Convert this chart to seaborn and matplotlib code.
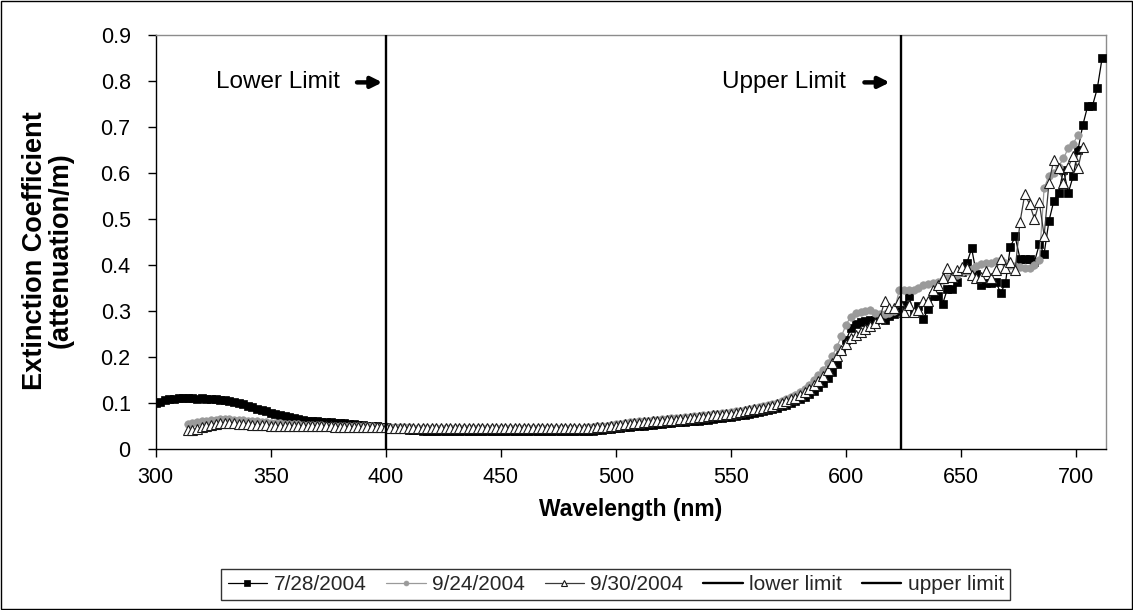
import matplotlib
matplotlib.use("Agg")
import matplotlib.pyplot as plt
import seaborn as sns
from matplotlib.patches import Rectangle

nan = float("nan")

# ---------------- data ----------------
wavelength = [
    300, 302, 304, 306, 308, 310, 312, 314, 316, 318,
    320, 322, 324, 326, 328, 330, 332, 334, 336, 338,
    340, 342, 344, 346, 348, 350, 352, 354, 356, 358,
    360, 362, 364, 366, 368, 370, 372, 374, 376, 378,
    380, 382, 384, 386, 388, 390, 392, 394, 396, 398,
    400, 402, 404, 406, 408, 410, 412, 414, 416, 418,
    420, 422, 424, 426, 428, 430, 432, 434, 436, 438,
    440, 442, 444, 446, 448, 450, 452, 454, 456, 458,
    460, 462, 464, 466, 468, 470, 472, 474, 476, 478,
    480, 482, 484, 486, 488, 490, 492, 494, 496, 498,
    500, 502, 504, 506, 508, 510, 512, 514, 516, 518,
    520, 522, 524, 526, 528, 530, 532, 534, 536, 538,
    540, 542, 544, 546, 548, 550, 552, 554, 556, 558,
    560, 562, 564, 566, 568, 570, 572, 574, 576, 578,
    580, 582, 584, 586, 588, 590, 592, 594, 596, 598,
    600, 602.1, 604.2, 606.3, 608.4, 610.5, 612.6, 614.7, 616.8, 618.9,
    621.0, 623.1, 625.2, 627.3, 629.4, 631.5, 633.6, 635.7, 637.8, 639.9,
    642.0, 644.1, 646.2, 648.3, 650.4, 652.5, 654.6, 656.7, 658.8, 660.9,
    663.0, 665.1, 667.2, 669.3, 671.4, 673.5, 675.6, 677.7, 679.8, 681.9,
    684.0, 686.1, 688.2, 690.3, 692.4, 694.5, 696.6, 698.7, 700.8, 702.9,
    705.0, 707.1, 709.2, 711.3,
]

ext_0728 = [
    0.100, 0.103, 0.106, 0.108, 0.109, 0.110, 0.110, 0.110, 0.110, 0.109,
    0.110, 0.109, 0.108, 0.108, 0.107, 0.106, 0.104, 0.102, 0.100, 0.097,
    0.094, 0.091, 0.088, 0.085, 0.082, 0.079, 0.076, 0.073, 0.071, 0.069,
    0.067, 0.065, 0.064, 0.062, 0.061, 0.060, 0.059, 0.058, 0.058, 0.057,
    0.056, 0.056, 0.055, 0.054, 0.053, 0.052, 0.051, 0.050, 0.049, 0.048,
    0.047, 0.046, 0.045, 0.044, 0.043, 0.042, 0.041, 0.041, 0.040, 0.040,
    0.040, 0.039, 0.039, 0.039, 0.039, 0.039, 0.039, 0.039, 0.039, 0.039,
    0.039, 0.039, 0.039, 0.039, 0.039, 0.039, 0.039, 0.039, 0.039, 0.039,
    0.039, 0.039, 0.039, 0.039, 0.039, 0.039, 0.039, 0.039, 0.039, 0.039,
    0.039, 0.039, 0.039, 0.039, 0.040, 0.040, 0.041, 0.042, 0.043, 0.044,
    0.045, 0.046, 0.047, 0.048, 0.049, 0.050, 0.051, 0.052, 0.053, 0.054,
    0.055, 0.056, 0.057, 0.058, 0.058, 0.059, 0.060, 0.061, 0.062, 0.063,
    0.064, 0.066, 0.067, 0.068, 0.069, 0.070, 0.072, 0.073, 0.075, 0.077,
    0.079, 0.081, 0.083, 0.085, 0.087, 0.090, 0.093, 0.096, 0.100, 0.104,
    0.109, 0.114, 0.120, 0.127, 0.135, 0.144, 0.155, 0.167, 0.184, 0.212,
    0.236, 0.262, 0.272, 0.276, 0.279, 0.280, 0.281, 0.284, 0.281, 0.289,
    0.293, 0.300, 0.314, 0.332, 0.297, 0.311, 0.283, 0.304, 0.332, 0.332,
    0.316, 0.348, 0.348, 0.362, 0.385, 0.404, 0.436, 0.380, 0.357, 0.361,
    0.361, 0.364, 0.339, 0.361, 0.439, 0.462, 0.414, 0.412, 0.412, 0.407,
    0.445, 0.425, 0.496, 0.539, 0.557, 0.607, 0.557, 0.593, 0.650, 0.704,
    0.745, 0.746, 0.784, 0.850,
]

ext_0924 = [
    nan, nan, nan, nan, nan, nan, nan, 0.054, 0.057, 0.059,
    0.061, 0.062, 0.063, 0.064, 0.065, 0.065, 0.065, 0.064, 0.064, 0.063,
    0.062, 0.061, 0.060, 0.059, 0.058, 0.057, 0.056, 0.056, 0.055, 0.055,
    0.054, 0.054, 0.053, 0.053, 0.052, 0.052, 0.052, 0.051, 0.051, 0.051,
    0.050, 0.050, 0.050, 0.050, 0.049, 0.049, 0.049, 0.049, 0.048, 0.048,
    0.048, 0.048, 0.047, 0.047, 0.047, 0.047, 0.046, 0.046, 0.046, 0.046,
    0.046, 0.046, 0.046, 0.045, 0.045, 0.045, 0.045, 0.045, 0.045, 0.045,
    0.045, 0.045, 0.045, 0.045, 0.045, 0.045, 0.045, 0.045, 0.045, 0.045,
    0.045, 0.045, 0.045, 0.045, 0.045, 0.045, 0.045, 0.045, 0.045, 0.045,
    0.045, 0.046, 0.046, 0.046, 0.047, 0.048, 0.049, 0.050, 0.051, 0.052,
    0.054, 0.055, 0.057, 0.058, 0.059, 0.060, 0.061, 0.062, 0.063, 0.064,
    0.065, 0.066, 0.067, 0.067, 0.068, 0.069, 0.070, 0.071, 0.072, 0.073,
    0.074, 0.076, 0.077, 0.078, 0.079, 0.080, 0.082, 0.083, 0.085, 0.087,
    0.089, 0.091, 0.093, 0.095, 0.098, 0.101, 0.104, 0.108, 0.113, 0.118,
    0.124, 0.131, 0.140, 0.150, 0.160, 0.172, 0.186, 0.202, 0.222, 0.245,
    0.270, 0.288, 0.296, 0.298, 0.300, 0.302, 0.296, 0.294, 0.293, 0.295,
    0.300, 0.345, 0.346, 0.346, 0.345, 0.350, 0.356, 0.358, 0.360, 0.364,
    0.368, 0.372, 0.375, 0.378, 0.384, 0.388, 0.392, 0.398, 0.402, 0.404,
    0.405, 0.408, 0.410, 0.405, 0.400, 0.398, 0.396, 0.394, 0.393, 0.400,
    0.410, 0.568, 0.593, 0.600, 0.614, 0.632, 0.654, 0.664, 0.682, nan,
    nan, nan, nan, nan,
]

ext_0930 = [
    nan, nan, nan, nan, nan, nan, nan, 0.041, 0.042, 0.044,
    0.047, 0.050, 0.053, 0.055, 0.056, 0.057, 0.057, 0.056, 0.055, 0.054,
    0.054, 0.053, 0.053, 0.052, 0.052, 0.051, 0.051, 0.051, 0.050, 0.050,
    0.050, 0.050, 0.050, 0.049, 0.049, 0.049, 0.049, 0.049, 0.049, 0.048,
    0.048, 0.048, 0.048, 0.048, 0.048, 0.047, 0.047, 0.047, 0.047, 0.047,
    0.047, 0.046, 0.046, 0.046, 0.046, 0.046, 0.046, 0.045, 0.045, 0.045,
    0.045, 0.045, 0.045, 0.045, 0.045, 0.045, 0.045, 0.045, 0.045, 0.045,
    0.045, 0.045, 0.045, 0.045, 0.045, 0.045, 0.045, 0.045, 0.045, 0.045,
    0.045, 0.045, 0.045, 0.045, 0.045, 0.045, 0.045, 0.045, 0.045, 0.045,
    0.045, 0.045, 0.046, 0.046, 0.046, 0.046, 0.047, 0.047, 0.048, 0.049,
    0.051, 0.052, 0.054, 0.055, 0.056, 0.057, 0.058, 0.059, 0.060, 0.061,
    0.062, 0.063, 0.064, 0.064, 0.065, 0.066, 0.067, 0.068, 0.069, 0.070,
    0.071, 0.073, 0.074, 0.075, 0.076, 0.077, 0.079, 0.080, 0.082, 0.084,
    0.086, 0.088, 0.090, 0.092, 0.094, 0.097, 0.100, 0.104, 0.108, 0.112,
    0.117, 0.124, 0.131, 0.139, 0.148, 0.158, 0.171, 0.186, 0.203, 0.216,
    0.228, 0.241, 0.248, 0.255, 0.261, 0.267, 0.273, 0.285, 0.321, 0.307,
    0.307, 0.321, 0.297, 0.314, 0.297, 0.302, 0.321, 0.321, 0.346, 0.357,
    0.372, 0.393, 0.375, 0.389, 0.396, 0.393, 0.379, 0.372, 0.375, 0.386,
    0.372, 0.389, 0.414, 0.393, 0.407, 0.389, 0.493, 0.554, 0.532, 0.500,
    0.536, 0.464, 0.579, 0.629, 0.611, 0.579, 0.614, 0.636, 0.611, 0.657,
    nan, nan, nan, nan,
]

series_labels = ["7/28/2004", "9/24/2004", "9/30/2004"]
limit_labels = ["lower limit", "upper limit"]
lower_limit_x = [400, 400]
upper_limit_x = [624, 624]
limit_y = [0, 0.9]
x_ticks = [300, 350, 400, 450, 500, 550, 600, 650, 700]
y_ticks = [0, 0.1, 0.2, 0.3, 0.4, 0.5, 0.6, 0.7, 0.8, 0.9]
y_tick_labels = ["0", "0.1", "0.2", "0.3", "0.4", "0.5", "0.6", "0.7", "0.8", "0.9"]
annotations = ["Lower Limit", "Upper Limit"]

# ---------------- style ----------------
sns.set_theme(style="white")
plt.rcParams["font.family"] = ["Liberation Sans", "DejaVu Sans"]

FS_TICK = 15.5
FS_XLAB = 16.5
FS_YLAB = 19.5
FS_NOTE = 17.5
FS_LEG = 15

fig = plt.figure(figsize=(11.33, 6.10), dpi=100)
ax = fig.add_axes([0.1374, 0.2639, 0.8388, 0.6787])

common = dict(ax=ax, estimator=None, sort=False, errorbar=None)

sns.lineplot(x=wavelength, y=ext_0728, color="black", linewidth=0.9,
             marker="s", markersize=5.8, markeredgecolor="black",
             markerfacecolor="black", markeredgewidth=0.5,
             label=series_labels[0], zorder=3, **common)
sns.lineplot(x=wavelength, y=ext_0924, color="#9a9a9a", linewidth=0.9,
             marker="o", markersize=5.4, markeredgecolor="#9a9a9a",
             markerfacecolor="#9a9a9a", markeredgewidth=0.5,
             label=series_labels[1], zorder=4, **common)
sns.lineplot(x=wavelength, y=ext_0930, color="#3a3a3a", linewidth=0.9,
             marker="^", markersize=7.0, markeredgecolor="#1a1a1a",
             markerfacecolor="white", markeredgewidth=0.8,
             label=series_labels[2], zorder=5, **common)
sns.lineplot(x=lower_limit_x, y=limit_y, color="black", linewidth=1.7,
             label=limit_labels[0], zorder=6, **common)
sns.lineplot(x=upper_limit_x, y=limit_y, color="black", linewidth=1.7,
             label=limit_labels[1], zorder=6, **common)

ax.set_xlim(300, 713)
ax.set_ylim(0, 0.9)
ax.set_xticks(x_ticks)
ax.set_xticklabels([str(t) for t in x_ticks])
ax.set_yticks(y_ticks)
ax.set_yticklabels(y_tick_labels)
ax.tick_params(axis="both", which="major", bottom=True, left=True,
               direction="out", length=6, width=1, color="black",
               labelsize=FS_TICK, labelcolor="black")
ax.tick_params(axis="y", pad=12)
ax.tick_params(axis="x", pad=7)

for side in ["left", "bottom"]:
    ax.spines[side].set_color("black")
    ax.spines[side].set_linewidth(1.0)
for side in ["top", "right"]:
    ax.spines[side].set_color("#8c8c8c")
    ax.spines[side].set_linewidth(1.0)
ax.set_facecolor("white")

ax.set_xlabel("Wavelength (nm)", fontsize=FS_XLAB, fontweight="bold",
              color="black", labelpad=7)
ax.set_ylabel("Extinction Coefficient\n(attenuation/m)", fontsize=FS_YLAB,
              fontweight="bold", color="black", linespacing=1.0)
ax.yaxis.set_label_coords(-0.086, 0.48)

# annotation texts with bold arrows pointing at the limit lines
note_y = 0.797
ax.text(380, note_y, annotations[0], ha="right", va="center",
        fontsize=FS_NOTE, color="black")
ax.annotate("", xy=(398.5, note_y), xytext=(387.5, note_y),
            arrowprops=dict(arrowstyle="-|>", color="black", lw=3.2,
                            mutation_scale=16, shrinkA=0, shrinkB=0))
ax.text(600, note_y, annotations[1], ha="right", va="center",
        fontsize=FS_NOTE, color="black")
ax.annotate("", xy=(619, note_y), xytext=(608, note_y),
            arrowprops=dict(arrowstyle="-|>", color="black", lw=3.2,
                            mutation_scale=16, shrinkA=0, shrinkB=0))

handles, labels = ax.get_legend_handles_labels()
leg = ax.legend(handles, labels, loc="center", ncol=5,
                bbox_to_anchor=(0.5435, 0.0415), bbox_transform=fig.transFigure,
                frameon=True, fancybox=False, edgecolor="black",
                fontsize=FS_LEG, handlelength=1.9, handletextpad=0.3,
                columnspacing=0.95, borderpad=0.3, markerscale=0.65)
leg.get_frame().set_linewidth(1.0)

fig.patches.append(Rectangle((0.0006, 0.001), 0.9988, 0.9975,
                             transform=fig.transFigure, fill=False,
                             edgecolor="black", linewidth=1.0))

fig.savefig("out.png", dpi=100, facecolor="white")
